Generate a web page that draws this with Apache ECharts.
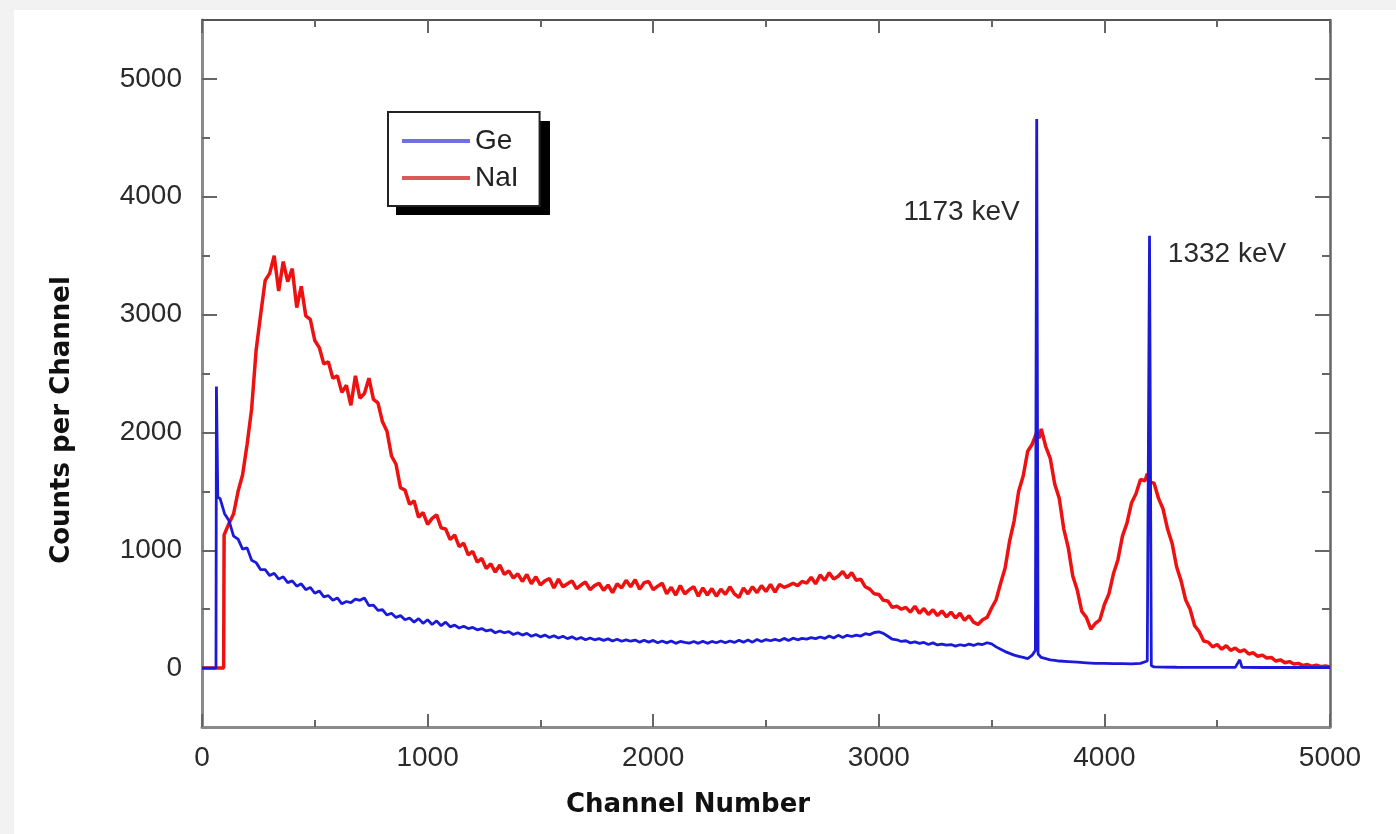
<!DOCTYPE html>
<html>
<head>
<meta charset="utf-8">
<script src="https://cdn.jsdelivr.net/npm/echarts@6/dist/echarts.min.js"></script>
<style>
  html, body { margin: 0; padding: 0; background: #f2f2f2; }
  #chart { position: absolute; left: 14px; top: 10px; width: 1382px; height: 824px; background: #ffffff; }
</style>
</head>
<body>
<div id="chart"></div>
<script>
// Co-60 gamma spectrum: germanium vs sodium iodide detector, [channel, counts]
const naiSpectrum = [
  [0,0],[40,0],[80,0],[96,0],[98,1130],[120,1230],[140,1310],[160,1500],[180,1640],[200,1900],
  [220,2200],[240,2700],[260,3000],[280,3290],[300,3350],[320,3500],[340,3200],[360,3450],[380,3280],[400,3390],
  [420,3060],[440,3240],[460,2990],[480,2960],[500,2780],[520,2720],[540,2580],[560,2600],[580,2460],[600,2480],
  [620,2340],[640,2400],[660,2230],[680,2480],[700,2290],[720,2330],[740,2460],[760,2280],[780,2250],[800,2090],
  [820,2010],[840,1800],[860,1730],[880,1530],[900,1510],[920,1390],[940,1420],[960,1280],[980,1320],[1000,1220],
  [1020,1270],[1040,1300],[1060,1190],[1080,1180],[1100,1090],[1120,1130],[1140,1030],[1160,1060],[1180,960],[1200,990],
  [1220,900],[1240,930],[1260,845],[1280,885],[1300,815],[1320,875],[1340,795],[1360,825],[1380,765],[1400,800],
  [1420,735],[1440,795],[1460,715],[1480,775],[1500,705],[1520,740],[1540,760],[1560,680],[1580,755],[1600,690],
  [1620,715],[1640,740],[1660,675],[1680,705],[1700,730],[1720,665],[1740,700],[1760,720],[1780,660],[1800,705],
  [1820,640],[1840,715],[1860,680],[1880,745],[1900,690],[1920,750],[1940,670],[1960,725],[1980,735],[2000,665],
  [2020,695],[2040,720],[2060,630],[2080,685],[2100,620],[2120,700],[2140,630],[2160,665],[2180,690],[2200,610],
  [2220,680],[2240,620],[2260,675],[2280,610],[2300,670],[2320,625],[2340,690],[2360,630],[2380,600],[2400,680],
  [2420,630],[2440,690],[2460,640],[2480,700],[2500,650],[2520,710],[2540,645],[2560,710],[2580,685],[2600,700],
  [2620,720],[2640,700],[2660,735],[2680,720],[2700,770],[2720,715],[2740,790],[2760,745],[2780,810],[2800,755],
  [2820,780],[2840,820],[2860,765],[2880,810],[2900,745],[2920,755],[2940,690],[2960,670],[2980,630],[3000,625],
  [3020,575],[3040,570],[3060,515],[3080,525],[3100,500],[3120,515],[3140,475],[3160,525],[3180,465],[3200,505],
  [3220,455],[3240,495],[3260,445],[3280,485],[3300,435],[3320,475],[3340,425],[3360,465],[3380,405],[3400,445],
  [3420,390],[3440,370],[3460,410],[3480,430],[3500,510],[3520,580],[3540,720],[3560,850],[3580,1080],[3600,1250],
  [3620,1500],[3640,1630],[3660,1840],[3680,1900],[3700,2000],[3710,1950],[3720,2030],[3740,1880],[3760,1780],[3780,1560],
  [3800,1440],[3820,1180],[3840,1020],[3860,780],[3880,660],[3900,480],[3920,430],[3940,330],[3960,380],[3980,410],
  [4000,540],[4020,630],[4040,800],[4060,920],[4080,1120],[4100,1230],[4120,1400],[4140,1480],[4160,1600],[4180,1590],
  [4190,1650],[4200,1580],[4220,1570],[4240,1440],[4260,1350],[4280,1180],[4300,1060],[4320,860],[4340,740],[4360,580],
  [4380,500],[4400,360],[4420,310],[4440,230],[4460,220],[4480,180],[4500,200],[4520,160],[4540,190],[4560,150],
  [4580,170],[4600,140],[4620,155],[4640,120],[4660,130],[4680,100],[4700,110],[4720,85],[4740,90],[4760,60],
  [4780,70],[4800,45],[4820,55],[4840,35],[4860,40],[4880,22],[4900,30],[4920,15],[4940,25],[4960,12],
  [4980,18],[5000,10]
];

const geSpectrum = [
  [0,0],[40,0],[62,0],[64,2390],[70,1450],[80,1440],[100,1310],[120,1250],[140,1120],[160,1095],
  [180,1010],[200,1020],[220,915],[240,895],[260,835],[280,835],[300,785],[320,805],[340,755],[360,775],
  [380,725],[400,740],[420,695],[440,715],[460,665],[480,685],[500,635],[520,655],[540,605],[560,615],
  [580,575],[600,595],[620,545],[640,565],[660,555],[680,585],[700,575],[720,595],[740,530],[760,535],
  [780,490],[800,495],[820,450],[840,465],[860,430],[880,445],[900,410],[920,425],[940,390],[960,420],
  [980,380],[1000,410],[1020,370],[1040,400],[1060,360],[1080,390],[1100,350],[1120,365],[1140,340],[1160,355],
  [1180,335],[1200,345],[1220,325],[1240,335],[1260,315],[1280,325],[1300,300],[1320,315],[1340,300],[1360,310],
  [1380,285],[1400,300],[1420,280],[1440,295],[1460,270],[1480,285],[1500,265],[1520,280],[1540,260],[1560,275],
  [1580,255],[1600,270],[1620,250],[1640,265],[1660,245],[1680,260],[1700,240],[1720,255],[1740,240],[1760,250],
  [1780,235],[1800,248],[1820,230],[1840,245],[1860,228],[1880,240],[1900,228],[1920,238],[1940,220],[1960,236],
  [1980,220],[2000,235],[2020,215],[2040,230],[2060,214],[2080,230],[2100,210],[2120,226],[2140,218],[2160,212],
  [2180,226],[2200,210],[2220,228],[2240,210],[2260,226],[2280,215],[2300,230],[2320,215],[2340,230],[2360,218],
  [2380,236],[2400,220],[2420,238],[2440,220],[2460,242],[2480,225],[2500,242],[2520,232],[2540,244],[2560,232],
  [2580,252],[2600,234],[2620,254],[2640,240],[2660,252],[2680,246],[2700,258],[2720,250],[2740,264],[2760,252],
  [2780,272],[2800,255],[2820,278],[2840,260],[2860,278],[2880,268],[2900,280],[2920,272],[2940,292],[2960,284],
  [2980,302],[3000,308],[3020,295],[3040,270],[3060,245],[3080,240],[3100,226],[3120,232],[3140,214],[3160,222],
  [3180,210],[3200,218],[3220,200],[3240,214],[3260,196],[3280,204],[3300,194],[3320,200],[3340,186],[3360,198],
  [3380,190],[3400,204],[3420,192],[3440,206],[3460,200],[3480,215],[3500,205],[3520,180],[3540,160],[3560,140],
  [3580,125],[3600,110],[3620,100],[3640,90],[3660,80],[3680,110],[3694,150],[3700,4660],[3706,120],[3720,90],
  [3740,80],[3760,70],[3780,65],[3800,60],[3840,55],[3880,50],[3920,45],[3960,40],[4000,40],[4040,38],
  [4080,38],[4120,36],[4160,40],[4190,60],[4200,3670],[4208,20],[4220,10],[4260,8],[4320,7],[4400,6],
  [4480,6],[4580,6],[4600,70],[4610,6],[4700,5],[4800,5],[4900,5],[5000,5]
];

const xMajorTicks = [0, 1000, 2000, 3000, 4000, 5000];
const yMajorTicks = [0, 1000, 2000, 3000, 4000, 5000];
const yMinorTicks = [500, 1500, 2500, 3500, 4500];

const peakLabels = [
  { text: '1173 keV', channel: 3700, counts: 3870, side: 'left' },
  { text: '1332 keV', channel: 4206, counts: 3510, side: 'right' }
];

const TICK_FONT = '"Liberation Sans", Arial, sans-serif';
const TITLE_FONT = '"DejaVu Sans", Verdana, sans-serif';
const plain = v => String(v);

const chart = echarts.init(document.getElementById('chart'));

function xAxisDef(position) {
  const bottom = position === 'bottom';
  return {
    type: 'value', position: position, min: 0, max: 5000, interval: 1000,
    axisLine: { show: true, onZero: false, lineStyle: { color: bottom ? '#8a8a8a' : '#555', width: bottom ? 3 : 2 } },
    axisTick: { show: true, inside: true, length: 13, lineStyle: { color: '#666', width: 2 } },
    minorTick: { show: true, splitNumber: 2, length: 7, lineStyle: { color: '#666', width: 2 } },
    axisLabel: { show: bottom, margin: 17, color: '#2a2a2a', fontSize: 28, fontFamily: TICK_FONT,
      customValues: xMajorTicks, formatter: plain },
    splitLine: { show: false }, minorSplitLine: { show: false }
  };
}

function yAxisDef(position, major) {
  const left = position === 'left';
  return {
    type: 'value', position: position, min: -500, max: 5500,
    axisLine: { show: major, onZero: false, lineStyle: { color: left ? '#8a8a8a' : '#666', width: left ? 3 : 2.5 } },
    axisTick: { show: true, inside: true, length: major ? 15 : 8, lineStyle: { color: '#666', width: 2 },
      customValues: major ? yMajorTicks : yMinorTicks },
    axisLabel: { show: major && left, margin: 20, color: '#2a2a2a', fontSize: 28, fontFamily: TICK_FONT,
      customValues: yMajorTicks, formatter: plain },
    splitLine: { show: false }
  };
}

chart.setOption({
  animation: false,
  grid: { left: 188, right: 66, top: 10, bottom: 107, containLabel: false },
  xAxis: [xAxisDef('bottom'), xAxisDef('top')],
  yAxis: [yAxisDef('left', true), yAxisDef('left', false), yAxisDef('right', true), yAxisDef('right', false)],
  legend: {
    data: [{ name: 'Ge', icon: 'rect' }, { name: 'NaI', icon: 'rect' }],
    orient: 'vertical',
    left: 374, top: 102,
    padding: [15, 21, 14, 14],
    itemWidth: 68, itemHeight: 4, itemGap: 9,
    backgroundColor: '#ffffff',
    borderColor: '#222', borderWidth: 2,
    textStyle: { fontSize: 28, color: '#222', fontFamily: TICK_FONT }
  },
  graphic: [
    // drop shadow behind the legend box
    { type: 'rect', z: 0, shape: { x: 382, y: 111, width: 154, height: 94 }, style: { fill: '#000' } },
    { type: 'text', x: 674, y: 795, style: { text: 'Channel Number', fontSize: 26, fontWeight: 'bold',
        fontFamily: TITLE_FONT, fill: '#111', textAlign: 'center', textVerticalAlign: 'middle' } },
    { type: 'text', x: 48, y: 410, rotation: Math.PI / 2, style: { text: 'Counts per Channel', fontSize: 26,
        fontWeight: 'bold', fontFamily: TITLE_FONT, fill: '#111', textAlign: 'center', textVerticalAlign: 'middle' } }
  ],
  series: [
    {
      name: 'NaI', type: 'line', data: naiSpectrum, xAxisIndex: 0, yAxisIndex: 0,
      symbol: 'none', sampling: null, z: 3,
      lineStyle: { color: '#ee1111', width: 3.5 }, itemStyle: { color: '#d85a5a' }
    },
    {
      name: 'Ge', type: 'line', data: geSpectrum, xAxisIndex: 0, yAxisIndex: 0,
      symbol: 'none', z: 4,
      lineStyle: { color: '#1a1ad8', width: 2.8 }, itemStyle: { color: '#7070e0' },
      markPoint: {
        symbol: 'circle', symbolSize: 0,
        data: peakLabels.map(p => ({
          coord: [p.channel, p.counts],
          label: { show: true, formatter: p.text, position: p.side, distance: 17,
            fontSize: 28, color: '#2a2a2a', fontFamily: TICK_FONT }
        }))
      }
    }
  ]
});
</script>
</body>
</html>
